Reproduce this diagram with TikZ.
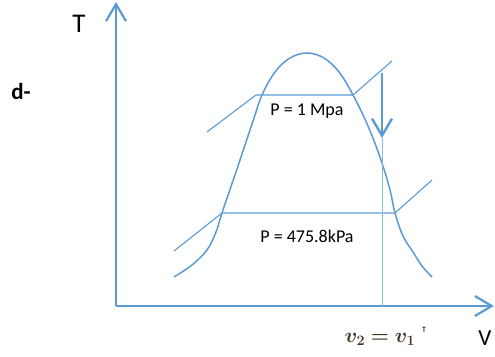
\documentclass[tikz,border=0pt]{standalone}
\usepackage{fontspec}
\setmainfont{Carlito}
\usepackage{amsmath}
\usepackage{bm}
\usetikzlibrary{arrows.meta}
\definecolor{lineblue}{RGB}{91,155,213}
\definecolor{mathink}{RGB}{70,55,35}
\tikzset{
  axisline/.style={draw=lineblue, line width=2.4pt, -{Straight Barb[length=17pt,width=20pt,line width=2.2pt]}},
  domeline/.style={draw=lineblue, line width=1.5pt},
  isobar/.style={draw=lineblue, line width=1.1pt},
  pointer/.style={draw=lineblue, line width=2.8pt, -{Straight Barb[length=17pt,width=20pt,line width=2.4pt]}},
  guide/.style={draw=lineblue!70, line width=0.5pt},
  lbl/.style={font=\fontsize{18}{20}\selectfont, inner sep=0pt},
}
\begin{document}
\begin{tikzpicture}[x=1pt,y=-1pt]
\useasboundingbox (0,0) rectangle (495,356);
% axes
\coordinate (O) at (116,306);
\coordinate (Ytop) at (116,2);
\coordinate (Xend) at (494,306);
\draw[axisline] (O) -- (Ytop);
\draw[axisline] (O) -- (Xend);
% dome
\draw[domeline] plot[smooth, tension=0.6] coordinates {
 (174,277) (192,265) (207,250) (216,232) (222,213) (240,160) (254,118) (262,95)
 (275,72) (290,58) (307,53) (324,58) (339,72) (353,95) (368,126) (381,160)
 (390,190) (395,213) (403,236) (413,252) (422,266) (432,277)};
% upper isobar
\coordinate (a1) at (207,132);
\coordinate (a2) at (256,95);
\coordinate (a3) at (353,95);
\coordinate (a4) at (392,61);
\draw[isobar] (a1) -- (a2) -- (a3) -- (a4);
% lower isobar
\coordinate (b1) at (174,251);
\coordinate (b2) at (222,213);
\coordinate (b3) at (395,213);
\coordinate (b4) at (432,180);
\draw[isobar] (b1) -- (b2) -- (b3) -- (b4);
% process arrow
\coordinate (s1) at (382,73);
\coordinate (s2) at (382,138);
\coordinate (s3) at (382,306);
\draw[guide] (s2) -- (s3);
\draw[pointer] (s1) -- (s2);
% labels
\node[lbl] (p1) at (307,111) {P = 1 Mpa};
\node[lbl] (p2) at (307,236) {P = 475.8kPa};
\node[font=\fontsize{27}{30}\selectfont, inner sep=0pt] (T) at (79,24) {T};
\node[font=\fontsize{23}{26}\selectfont\bfseries, inner sep=0pt] (d) at (21,92) {d-};
\node[font=\fontsize{23}{26}\selectfont, inner sep=0pt] (V) at (485,338) {V};
\node[font=\fontsize{21}{24}\selectfont, inner sep=0pt, text=mathink] (vv) at (380,339) {$\bm{v_2 = v_1}$};
\node[font=\fontsize{8}{9}\selectfont, inner sep=0pt] (tt) at (424,330) {T};
\end{tikzpicture}
\end{document}
